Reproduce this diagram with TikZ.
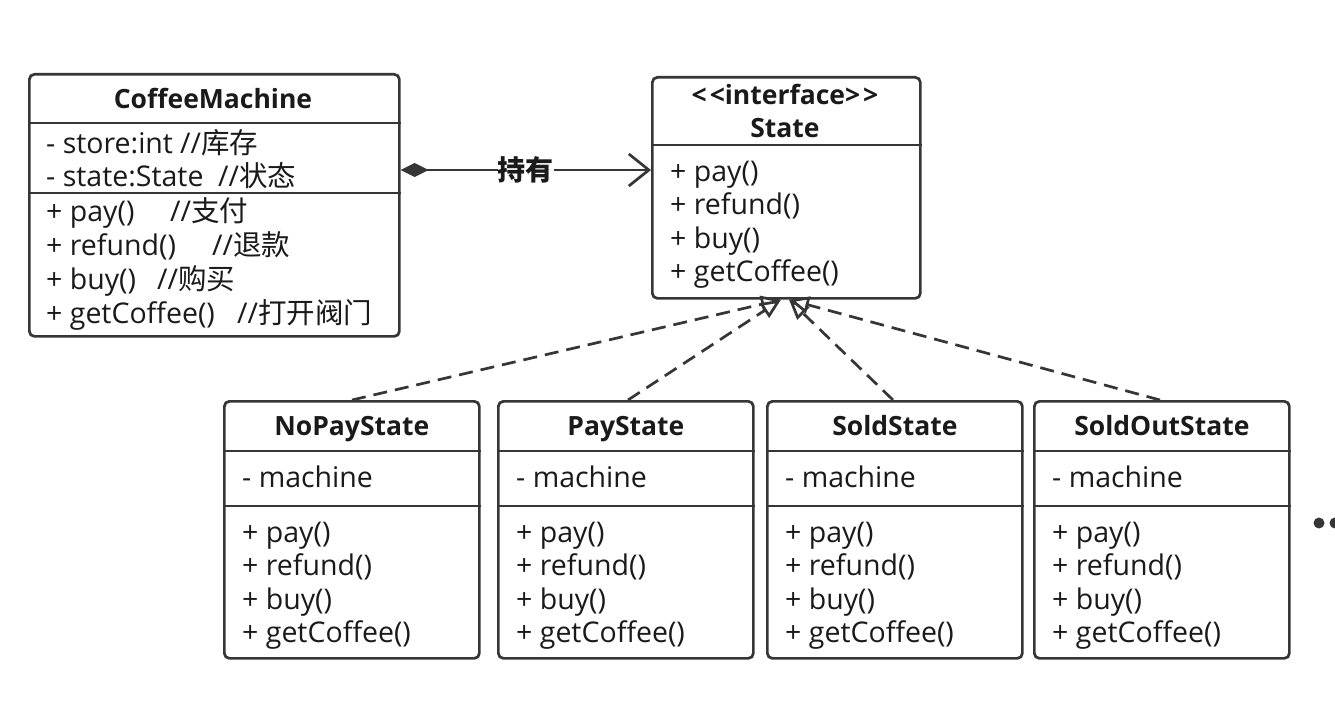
\documentclass[tikz,border=0pt]{standalone}
\usepackage{fontspec}
\setmainfont{Open Sans}
\newfontfamily\cjk{Noto Sans CJK SC}
\usetikzlibrary{arrows.meta,calc}
\definecolor{linec}{HTML}{363636}
\definecolor{textc}{HTML}{1A1A1A}
\begin{document}
\begin{tikzpicture}[x=1pt,y=-1pt,
  umlbox/.style={draw=linec, line width=2.7pt, rounded corners=5pt, anchor=north west, inner sep=0pt, fill=white},
  txt/.style={anchor=west, inner sep=0pt, font=\fontsize{28.5}{32}\selectfont, text height=20pt, text depth=7pt, text=textc},
  ttl/.style={anchor=center, inner sep=0pt, font=\fontsize{26.5}{30}\selectfont\bfseries, text height=19pt, text depth=6pt, text=textc},
  sep/.style={draw=linec, line width=2.7pt},
  assoc/.style={draw=linec, line width=2.7pt, {Diamond[length=28pt,width=14pt,fill=linec]}-{Straight Barb[length=20pt,width=32pt]}},
  real/.style={draw=linec, line width=2.7pt, dash pattern=on 14pt off 8pt, -{Triangle[length=20pt,width=17pt,fill=white]}},
]
\fill[white] (0,0) rectangle (1335,714);
\useasboundingbox (0,0) rectangle (1335,714);

% CoffeeMachine
\node[umlbox, minimum width=370pt, minimum height=262pt] (cm) at (28,73) {};
\draw[sep] (cm.west |- 0,123) -- (cm.east |- 0,123);
\draw[sep] (cm.west |- 0,193) -- (cm.east |- 0,193);
\node[ttl] (cmt) at (213,102) {CoffeeMachine};
\node[txt] (cma1) at (46,147) {- store:int};
\node[txt] (cma1c) at (180,147) {//{\cjk 库存}};
\node[txt] (cma2) at (46,180) {- state:State};
\node[txt] (cma2c) at (218,180) {//{\cjk 状态}};
\node[txt] (cmm1) at (46,215) {+ pay()};
\node[txt] (cmm1c) at (170,215) {//{\cjk 支付}};
\node[txt] (cmm2) at (46,249) {+ refund()};
\node[txt] (cmm2c) at (212,249) {//{\cjk 退款}};
\node[txt] (cmm3) at (46,283) {+ buy()};
\node[txt] (cmm3c) at (157,283) {//{\cjk 购买}};
\node[txt] (cmm4) at (46,317) {+ getCoffee()};
\node[txt] (cmm4c) at (237,317) {//{\cjk 打开阀门}};

% State interface
\node[umlbox, minimum width=268pt, minimum height=221pt] (st) at (651,76) {};
\draw[sep] (st.west |- 0,145) -- (st.east |- 0,145);
\node[ttl] (stt1) at (785,98) {\textless\hspace{3pt}\textless interface\textgreater\hspace{3pt}\textgreater};
\node[ttl] (stt2) at (785,131) {State};
\node[txt] (stm1) at (670,175) {+ pay()};
\node[txt] (stm2) at (670,208) {+ refund()};
\node[txt] (stm3) at (670,242) {+ buy()};
\node[txt] (stm4) at (670,275) {+ getCoffee()};

% association
\draw[assoc] (cm.east |- 0,170) -- node[fill=white, inner sep=0pt, font=\fontsize{28}{30}\selectfont\cjk\bfseries, text=textc] (lbl) {持有} (st.west |- 0,170);

% concrete states
\foreach \nm/\ttlx/\x in {np/NoPayState/223, ps/PayState/497, ss/SoldState/766, so/SoldOutState/1033}{
  \node[umlbox, minimum width=255pt, minimum height=257pt] (\nm) at (\x,400) {};
  \draw[sep] (\nm.west |- 0,451) -- (\nm.east |- 0,451);
  \draw[sep] (\nm.west |- 0,506) -- (\nm.east |- 0,506);
  \node[ttl] (\nm t) at ($(\nm.north)+(0,29)$) {\ttlx};
  \node[txt] (\nm a) at (\x+19,481) {- machine};
  \node[txt] (\nm m1) at (\x+19,536) {+ pay()};
  \node[txt] (\nm m2) at (\x+19,569) {+ refund()};
  \node[txt] (\nm m3) at (\x+19,603) {+ buy()};
  \node[txt] (\nm m4) at (\x+19,636) {+ getCoffee()};
}

% realizations
\draw[real] (np.north -| 352,0) -- (st.south -| 781,0);
\draw[real] (ps.north -| 628,0) -- (st.south -| 781,0);
\draw[real] (ss.north -| 893,0) -- (st.south -| 789,0);
\draw[real] (so.north -| 1160,0) -- (st.south -| 789,0);

% ellipsis dots
\fill[linec] (1319,523) circle (5.5pt);
\fill[linec] (1335,523) circle (5.5pt);
\end{tikzpicture}
\end{document}
